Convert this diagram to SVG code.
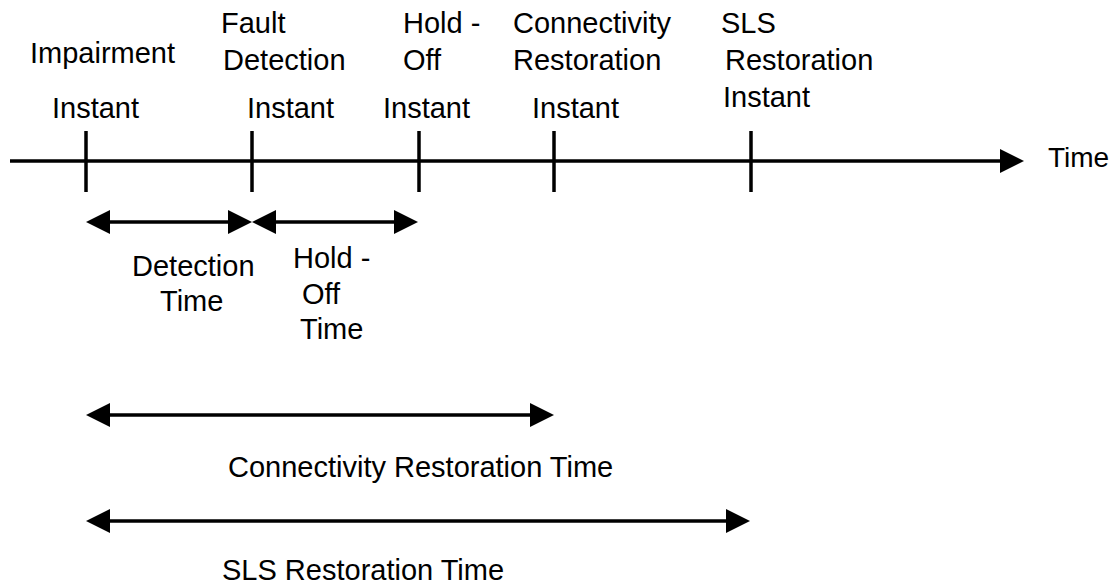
<svg xmlns="http://www.w3.org/2000/svg" width="1115" height="586" viewBox="0 0 1115 586">
<style>
text{font-family:"Liberation Sans",Arial,sans-serif;font-size:29px;fill:#000}
.ln{stroke:#000;stroke-width:3.5;fill:none}
</style>
<defs>
<marker id="ah" viewBox="0 0 24 24" refX="0" refY="12" markerWidth="24" markerHeight="24" markerUnits="userSpaceOnUse" orient="auto-start-reverse">
<path d="M0,0 L24,12 L0,24 Z" fill="#000"/>
</marker>
</defs>
<rect width="1115" height="586" fill="#fff"/>
<g id="connectors">
<line class="ln" x1="10" y1="161" x2="1000" y2="161" marker-end="url(#ah)"/>
<line class="ln" x1="86" y1="131" x2="86" y2="192"/>
<line class="ln" x1="252" y1="131" x2="252" y2="192"/>
<line class="ln" x1="419" y1="131" x2="419" y2="192"/>
<line class="ln" x1="554" y1="131" x2="554" y2="192"/>
<line class="ln" x1="751" y1="131" x2="751" y2="192"/>
<line class="ln" x1="110" y1="222" x2="228" y2="222" marker-start="url(#ah)" marker-end="url(#ah)"/>
<line class="ln" x1="276" y1="222" x2="394" y2="222" marker-start="url(#ah)" marker-end="url(#ah)"/>
<line class="ln" x1="110" y1="415" x2="530" y2="415" marker-start="url(#ah)" marker-end="url(#ah)"/>
<line class="ln" x1="110" y1="521" x2="726" y2="521" marker-start="url(#ah)" marker-end="url(#ah)"/>
</g>
<g id="impairment"><text x="30" y="63">Impairment</text><text x="52" y="118">Instant</text></g>
<g id="fault-detection"><text x="221" y="33">Fault</text><text x="223" y="70">Detection</text><text x="247" y="118">Instant</text></g>
<g id="hold-off"><text x="403" y="33">Hold -</text><text x="403" y="70">Off</text><text x="383" y="118">Instant</text></g>
<g id="connectivity"><text x="513" y="33">Connectivity</text><text x="513" y="70">Restoration</text><text x="532" y="118">Instant</text></g>
<g id="sls"><text x="721" y="33">SLS</text><text x="725" y="70">Restoration</text><text x="723" y="107">Instant</text></g>
<g id="time-axis-label"><text x="1048" y="167" style="font-size:28px">Time</text></g>
<g id="detection-time"><text x="132" y="276">Detection</text><text x="160" y="311">Time</text></g>
<g id="hold-off-time"><text x="293" y="268">Hold -</text><text x="302" y="304">Off</text><text x="300" y="339">Time</text></g>
<g id="connectivity-time"><text x="228" y="477">Connectivity Restoration Time</text></g>
<g id="sls-time"><text x="222" y="580">SLS Restoration Time</text></g>
</svg>
